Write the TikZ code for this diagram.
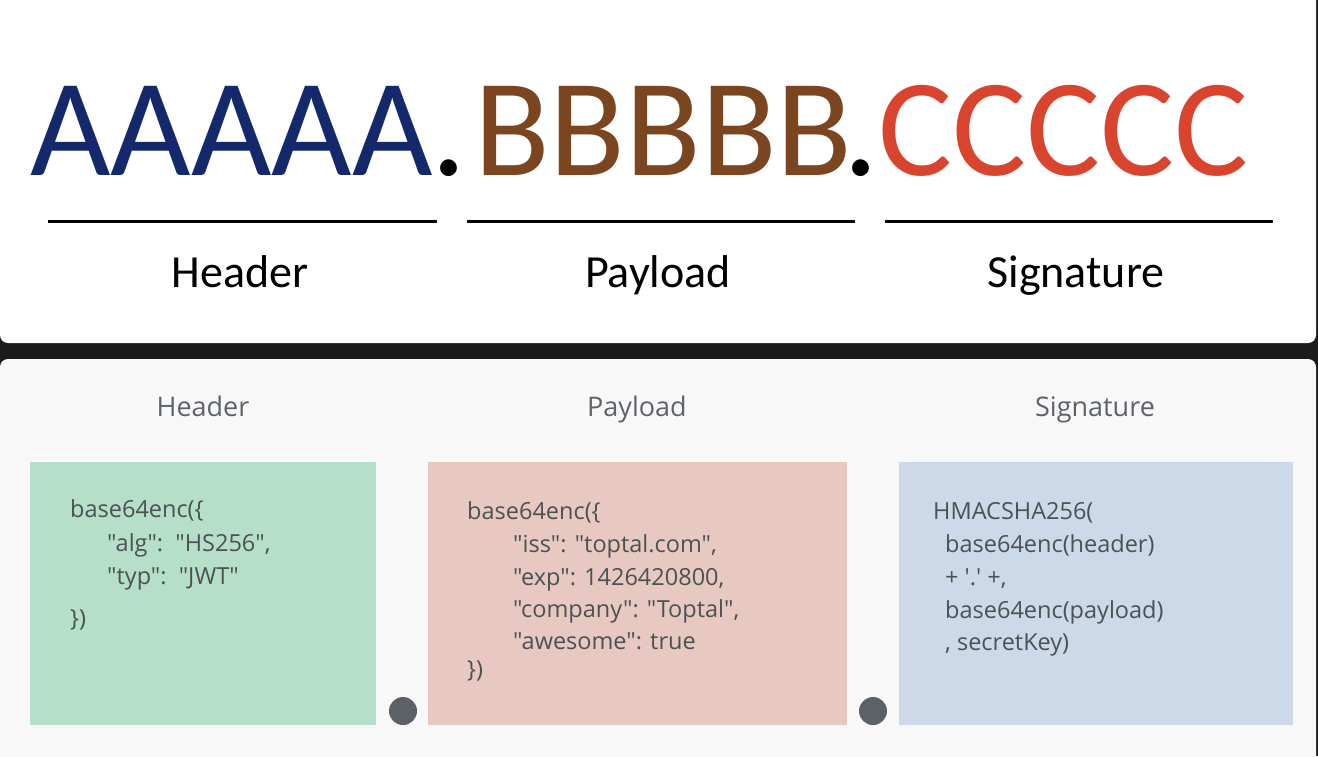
\documentclass[tikz,border=0pt]{standalone}
\usepackage{fontspec}
\newfontfamily\topfont{Carlito}
\newfontfamily\boxfont{Open Sans}
\definecolor{bgdark}{HTML}{1B1B1B}
\definecolor{panelgray}{HTML}{F8F8F8}
\definecolor{navyA}{HTML}{13296B}
\definecolor{brownB}{HTML}{7B4520}
\definecolor{redC}{HTML}{D9442F}
\definecolor{greenbox}{HTML}{B6DFC9}
\definecolor{pinkbox}{HTML}{E8C9C1}
\definecolor{bluebox}{HTML}{CCD9E8}
\definecolor{codegray}{HTML}{4C5154}
\definecolor{titlegray}{HTML}{5E6368}
\definecolor{dotgray}{HTML}{5B6166}
\begin{document}
\begin{tikzpicture}[x=1pt,y=-1pt,
  bigtext/.style={inner sep=0pt,anchor=base west,font=\topfont\fontsize{139}{139}\selectfont},
  bigdot/.style={inner sep=0pt,anchor=base,font=\topfont\fontsize{139}{139}\selectfont,text=black},
  toplabel/.style={inner sep=0pt,anchor=base,font=\topfont\fontsize{46}{46}\selectfont,text=black},
  rule/.style={line width=3pt,black},
  subtitle/.style={inner sep=0pt,anchor=base,font=\boxfont\fontsize{27}{27}\selectfont,text=titlegray},
  code/.style={inner sep=0pt,anchor=base west,font=\boxfont\fontsize{23.5}{23.5}\selectfont,text=codegray},
  joiner/.style={circle,fill=dotgray,inner sep=0pt,minimum size=28pt}
]
\useasboundingbox (0,0) rectangle (1318,756);
\fill[bgdark] (0,0) rectangle (1318,756);
% panels
\fill[white,rounded corners=8pt] (0,-20) rectangle (1316,343);
\fill[panelgray,rounded corners=8pt] (0,359) rectangle (1316,776);

% top: token
\node[bigtext,text=navyA] (tA) at (30,175) {AAAAA};
\node[bigdot] (d1) at (449,175) {.};
\node[bigtext,text=brownB] (tB) at (474,175) {BBBBB};
\node[bigdot] (d2) at (861,175) {.};
\node[bigtext,text=redC] (tC) at (878,175) {CCCCC};
\coordinate (r1a) at (48,221); \coordinate (r1b) at (437,221);
\coordinate (r2a) at (467,221); \coordinate (r2b) at (855,221);
\coordinate (r3a) at (885,221); \coordinate (r3b) at (1273,221);
\draw[rule] (r1a) -- (r1b);
\draw[rule] (r2a) -- (r2b);
\draw[rule] (r3a) -- (r3b);
\node[toplabel] (lh) at (240,287) {Header};
\node[toplabel] (lp) at (658,287) {Payload};
\node[toplabel] (ls) at (1076,287) {Signature};

% bottom titles
\node[subtitle] (th) at (203,416) {Header};
\node[subtitle] (tp) at (637,416) {Payload};
\node[subtitle] (ts) at (1095,416) {Signature};

% boxes
\fill[greenbox] (30,462) rectangle (376,725);
\fill[pinkbox] (428,462) rectangle (847,725);
\fill[bluebox] (899,462) rectangle (1293,725);

% joiners
\node[joiner] (j1) at (403,711) {};
\node[joiner] (j2) at (873,711) {};

% header code
\node[code] (h1) at (70,517) {base64enc(\{};
\node[code] (h2) at (107,551) {"alg":\ \ "HS256",};
\node[code] (h3) at (107,584) {"typ":\ \ "JWT"};
\node[code] (h4) at (70,626) {\})};

% payload code
\node[code] (p1) at (467,519) {base64enc(\{};
\node[code] (p2) at (513,552) {"iss": "toptal.com",};
\node[code] (p3) at (513,585) {"exp": 1426420800,};
\node[code] (p4) at (513,617) {"company": "Toptal",};
\node[code] (p5) at (513,649) {"awesome": true};
\node[code] (p6) at (467,677) {\})};

% signature code
\node[code] (s1) at (933,519) {HMACSHA256(};
\node[code] (s2) at (945,552) {base64enc(header)};
\node[code] (s3) at (945,585) {+ \textquotesingle.\textquotesingle\ +,};
\node[code] (s4) at (945,618) {base64enc(payload)};
\node[code] (s5) at (945,650) {, secretKey)};
\end{tikzpicture}
\end{document}
